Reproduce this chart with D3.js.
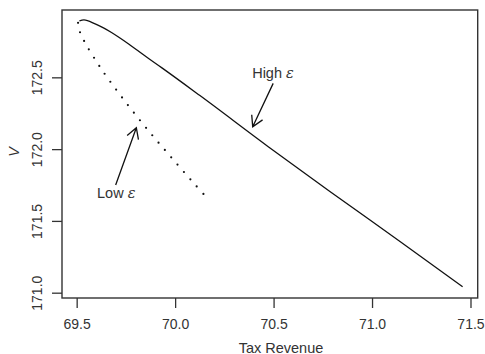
<!DOCTYPE html>
<html>
<head>
<meta charset="utf-8">
<script src="https://cdn.jsdelivr.net/npm/d3@7"></script>
<style>
  body { margin: 0; background: #fff; }
  svg { display: block; font-family: "Liberation Sans", Arial, sans-serif; }
</style>
</head>
<body>
<div id="chart"></div>
<script>
const width = 485;
const height = 354;

const margin = ({top: 10, right: 7.3, bottom: 56, left: 62});

// High epsilon curve (solid)
const highX = [69.514, 69.537, 69.594, 69.636, 69.679, 69.720, 69.764, 69.848, 69.933, 70.126, 70.473, 70.786, 71.142, 71.460];
const highY = [172.893, 172.900, 172.872, 172.845, 172.811, 172.774, 172.732, 172.648, 172.566, 172.373, 172.017, 171.705, 171.357, 171.042];

// Low epsilon curve (dotted)
const lowX = [69.507, 69.515, 69.532, 69.554, 69.600, 69.650, 69.755, 69.866, 69.980, 70.097, 70.157];
const lowY = [172.880, 172.822, 172.769, 172.713, 172.611, 172.509, 172.316, 172.126, 171.943, 171.759, 171.668];

const xTicks = [69.5, 70.0, 70.5, 71.0, 71.5];
const yTicks = [171.0, 171.5, 172.0, 172.5];

// annotations: label position, arrow tail, arrow tip
const notes = [
  {label: "Low", lx: 69.701, ly: 171.695, x0: 69.698, y0: 171.750, x1: 69.803, y1: 172.149},
  {label: "High", lx: 70.497, ly: 172.530, x0: 70.498, y0: 172.458, x1: 70.394, y1: 172.156}
];

const x = d3.scaleLinear()
  .domain([69.4255, 71.5366])
  .range([margin.left, width - margin.right]);

const y = d3.scaleLinear()
  .domain([170.963, 172.969])
  .range([height - margin.bottom, margin.top]);

const svg = d3.select("#chart")
  .append("svg")
  .attr("width", width)
  .attr("height", height);

const ink = "#333";

const xAxis = g => {
  g.attr("transform", `translate(0,${height - margin.bottom})`)
    .call(d3.axisBottom(x).tickValues(xTicks).tickFormat(d3.format(".1f")).tickSize(10).tickPadding(11))
    .call(g => g.select(".domain").remove());
  g.selectAll("line").attr("stroke", ink).attr("stroke-width", 1.3);
  g.selectAll("text").attr("fill", ink).attr("font-size", 14);
};

const yAxis = g => {
  g.attr("transform", `translate(${margin.left},0)`)
    .call(d3.axisLeft(y).tickValues(yTicks).tickFormat(d3.format(".1f")).tickSize(10))
    .call(g => g.select(".domain").remove());
  g.selectAll("line").attr("stroke", ink).attr("stroke-width", 1.3);
  g.selectAll("text")
    .attr("fill", ink)
    .attr("font-size", 14)
    .attr("text-anchor", "middle")
    .attr("transform", "rotate(-90)")
    .attr("x", 0)
    .attr("y", -25.3)
    .attr("dy", "0.36em");
};

svg.append("g").call(xAxis);
svg.append("g").call(yAxis);

svg.append("rect")
  .attr("x", margin.left)
  .attr("y", margin.top)
  .attr("width", width - margin.left - margin.right)
  .attr("height", height - margin.top - margin.bottom)
  .attr("fill", "none")
  .attr("stroke", ink)
  .attr("stroke-width", 1.4);

const line = d3.line()
  .x(d => x(d[0]))
  .y(d => y(d[1]))
  .curve(d3.curveMonotoneX);

svg.append("path")
  .attr("d", line(d3.zip(highX, highY)))
  .attr("fill", "none")
  .attr("stroke", "#111")
  .attr("stroke-width", 1.3);

svg.append("path")
  .attr("d", line.curve(d3.curveCatmullRom)(d3.zip(lowX, lowY)))
  .attr("fill", "none")
  .attr("stroke", "#111")
  .attr("stroke-width", 2.2)
  .attr("stroke-linecap", "round")
  .attr("stroke-dasharray", "0 9.7");

// arrows
const headLen = 12;
const headAng = Math.PI / 6;
notes.forEach(n => {
  const ax = x(n.x0), ay = y(n.y0), bx = x(n.x1), by = y(n.y1);
  const a = Math.atan2(ay - by, ax - bx);
  const p = d3.path();
  p.moveTo(ax, ay);
  p.lineTo(bx, by);
  p.moveTo(bx + headLen * Math.cos(a + headAng), by + headLen * Math.sin(a + headAng));
  p.lineTo(bx, by);
  p.lineTo(bx + headLen * Math.cos(a - headAng), by + headLen * Math.sin(a - headAng));
  svg.append("path")
    .attr("d", p.toString())
    .attr("fill", "none")
    .attr("stroke", "#111")
    .attr("stroke-width", 1.3);

  const t = svg.append("text")
    .attr("x", x(n.lx))
    .attr("y", y(n.ly))
    .attr("dy", "0.36em")
    .attr("text-anchor", "middle")
    .attr("font-size", 14.5)
    .attr("fill", ink);
  t.append("tspan").text(n.label + " ");
  t.append("tspan").attr("font-style", "italic").attr("font-family", "DejaVu Serif, serif").text("ε");
});

// axis titles
svg.append("text")
  .attr("x", 281)
  .attr("y", 352.5)
  .attr("text-anchor", "middle")
  .attr("font-size", 14.5)
  .attr("fill", ink)
  .text("Tax Revenue");

svg.append("text")
  .attr("transform", `translate(14,${(margin.top + height - margin.bottom) / 2 - 2}) rotate(-90)`)
  .attr("dy", "0.36em")
  .attr("text-anchor", "middle")
  .attr("font-size", 14.5)
  .attr("font-style", "italic")
  .attr("fill", ink)
  .text("V");
</script>
</body>
</html>
